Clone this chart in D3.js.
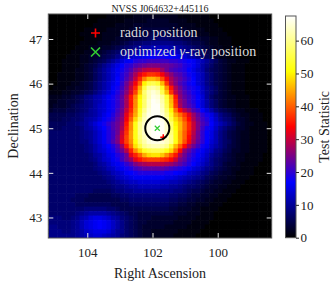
<!DOCTYPE html>
<html>
<head>
<meta charset="utf-8">
<script src="https://cdn.jsdelivr.net/npm/d3@7"></script>
<style>
  body { margin: 0; background: #fff; overflow: hidden; }
  svg { display: block; }
</style>
</head>
<body>
<svg id="chart" width="336" height="288"></svg>
<script>
// map extent and ticks (degrees)
const title = 'NVSS J064632+445116';
const raExtent = [105.196, 98.344];
const decExtent = [47.56, 42.54];
const raTicks = [104, 102, 100];
const decTicks = [43, 44, 45, 46, 47];
const tsTicks = [0, 10, 20, 30, 40, 50, 60];
const tsMax = 67.5;

// markers
const radioPos = [101.67, 44.80];
const fitPos = [101.853, 45.0];
const fitRadius = 0.27;

// TS map, 50 x 50 pixels, top row = highest Dec, left column = highest RA
const tsRows = [
  [0,0,0,0,0,0,0,0,0,0, 0,0,0,1,1,1,1,1,1,2, 2,2,2,2,2,2,2,2,2,1, 1,1,1,1,1,1,0,0,0,0, 0,0,0,0,0,0,0,0,0,0],
  [0,0,0,0,0,0,0,0,0,0, 0,1,1,1,1,1,1,2,2,2, 2,2,3,3,3,3,3,2,2,2, 2,1,1,1,1,1,1,0,0,0, 0,0,0,0,0,0,0,0,0,0],
  [0,0,0,0,0,0,0,0,0,0, 1,1,1,1,1,2,2,2,2,3, 3,3,3,3,3,3,3,3,3,2, 2,2,2,1,1,1,1,1,0,0, 0,0,0,0,0,0,0,0,0,0],
  [0,0,0,0,0,0,0,0,1,1, 1,1,1,2,2,2,2,2,3,3, 3,4,4,4,4,4,4,3,3,3, 3,2,2,2,2,1,1,1,1,0, 0,0,0,0,0,0,0,0,0,0],
  [0,0,0,0,0,0,0,1,1,1, 1,1,2,2,2,2,3,3,3,4, 4,4,5,5,5,5,5,4,4,4, 3,3,3,2,2,2,1,1,1,1, 0,0,0,0,0,0,0,0,0,0],
  [0,0,0,0,0,0,0,0,1,1, 1,1,2,2,2,3,3,3,4,4, 5,5,6,6,7,7,7,6,6,6, 5,5,4,4,3,3,2,2,1,1, 1,0,0,0,0,0,0,0,0,0],
  [0,0,0,0,0,0,0,1,1,1, 1,2,2,2,3,3,4,5,6,7, 7,8,8,9,9,9,9,9,8,8, 7,6,5,5,4,3,2,2,1,1, 1,0,0,0,0,0,0,0,0,0],
  [0,0,0,0,0,0,1,1,1,2, 2,2,3,3,4,5,6,7,8,9, 10,11,11,12,12,12,12,11,11,10, 9,8,7,6,5,4,3,2,2,1, 1,1,0,0,0,0,0,0,0,0],
  [0,0,0,0,0,1,1,1,2,2, 3,3,4,5,6,7,8,9,10,11, 12,13,14,14,15,15,14,14,13,12, 11,10,9,7,6,5,4,3,2,2, 1,1,1,0,0,0,0,0,0,0],
  [0,0,0,0,1,1,1,2,2,3, 3,4,5,6,7,9,11,12,13,14, 15,16,17,17,18,18,17,17,16,15, 14,12,11,9,7,6,4,3,2,2, 1,1,1,0,0,0,0,0,0,0],
  [0,0,0,1,1,1,1,2,2,3, 4,5,6,8,10,12,14,16,17,19, 20,20,21,21,21,21,21,20,20,19, 18,17,16,14,12,10,8,6,4,3, 2,2,1,1,1,0,0,0,0,0],
  [0,0,0,1,1,1,1,2,3,4, 5,7,9,11,13,15,17,19,20,22, 23,24,25,25,25,24,24,23,22,21, 19,18,16,14,11,9,7,5,4,3, 2,1,1,1,0,0,0,0,0,0],
  [0,0,0,1,1,1,2,2,3,4, 6,8,10,12,14,16,18,20,22,25, 27,29,30,30,30,27,24,22,21,20, 19,17,15,13,11,8,6,5,4,3, 2,1,1,1,0,0,0,0,0,0],
  [0,0,1,1,1,1,2,2,3,4, 6,8,10,12,14,16,19,21,24,28, 32,35,37,37,36,33,29,26,23,22, 20,18,16,14,12,9,7,5,4,3, 2,1,1,1,0,0,0,0,0,0],
  [0,0,1,1,1,1,2,2,3,4, 6,8,10,12,14,17,19,22,25,30, 36,42,46,46,44,39,33,28,25,23, 21,19,17,14,12,9,7,5,4,3, 2,1,1,1,0,0,0,0,0,0],
  [0,0,1,1,1,2,2,3,4,5, 7,9,11,13,15,17,20,24,28,33, 40,50,55,56,54,46,37,29,25,22, 20,18,17,14,12,9,7,5,4,3, 2,1,1,1,0,0,0,0,0,0],
  [0,1,1,1,2,2,3,3,4,5, 7,9,11,13,16,18,21,25,30,36, 45,55,61,62,60,53,43,35,28,24, 21,19,18,16,13,10,8,6,4,3, 2,1,1,1,0,0,0,0,0,0],
  [1,1,1,2,2,3,3,4,5,6, 8,10,12,14,16,19,22,26,31,38, 47,58,63,65,63,56,46,37,29,25, 22,20,18,16,13,10,8,6,4,3, 2,1,1,1,0,0,0,0,0,0],
  [2,2,2,3,3,4,5,6,8,9, 11,12,14,16,18,20,23,28,35,42, 50,57,63,66,65,61,54,45,35,26, 23,21,19,17,14,10,7,5,4,3, 2,2,1,1,1,0,0,0,0,0],
  [2,2,3,3,4,4,5,6,8,9, 11,12,14,16,18,20,23,28,35,43, 51,58,64,67,66,62,55,46,36,27, 24,21,19,17,14,11,8,6,4,3, 2,2,1,1,1,0,0,0,0,0],
  [2,3,3,3,4,5,6,7,8,9, 11,13,14,16,18,20,23,28,35,43, 51,58,64,67,67,63,56,47,37,28, 24,22,20,17,14,11,8,6,4,3, 2,2,1,1,1,0,0,0,0,0],
  [3,4,4,4,5,5,6,7,8,10, 11,13,14,16,18,21,24,30,36,44, 53,60,65,67,67,64,58,50,41,34, 29,26,22,20,17,14,11,8,6,5, 4,3,2,2,1,1,1,0,0,0],
  [5,5,5,5,6,6,7,8,9,10, 11,13,15,17,19,22,25,32,38,45, 54,62,66,67,67,65,60,53,45,41, 37,32,27,23,20,18,15,12,9,7, 6,4,3,2,2,1,1,1,0,0],
  [5,5,5,6,6,7,7,8,10,11, 12,14,16,18,20,23,26,33,40,48, 57,63,66,67,68,66,62,55,48,44, 39,34,28,24,21,19,16,13,10,8, 7,5,3,3,2,1,1,1,0,0],
  [6,6,6,6,7,7,8,9,10,12, 14,16,18,20,22,24,27,35,43,52, 60,64,66,67,68,67,64,58,50,46, 41,36,30,25,22,20,17,14,12,10, 8,6,4,3,2,2,1,1,1,0],
  [6,6,6,7,7,7,7,8,10,11, 13,15,17,19,22,24,28,36,43,52, 60,64,66,67,68,67,64,58,51,46, 41,36,30,25,21,18,16,13,10,8, 6,5,3,3,2,1,1,1,1,0],
  [7,7,7,7,7,7,7,8,9,10, 12,14,16,19,21,24,30,37,44,52, 60,64,66,67,68,67,64,59,52,45, 40,35,29,24,20,17,15,12,9,7, 5,4,3,2,2,1,1,1,1,0],
  [7,7,7,7,7,7,7,8,9,10, 12,14,16,19,21,25,31,38,44,52, 59,63,66,67,67,66,64,60,52,45, 40,34,28,24,20,17,15,12,9,7, 5,4,3,2,2,1,1,1,1,0],
  [7,7,7,7,7,7,7,8,8,10, 12,14,16,19,22,25,32,38,43,51, 58,62,65,66,66,65,63,60,52,45, 39,33,27,23,20,17,14,12,9,7, 6,4,3,2,2,1,1,1,1,0],
  [7,7,7,7,7,7,7,7,8,9, 11,13,15,17,19,22,27,35,41,49, 55,60,62,63,63,62,60,54,46,40, 34,28,24,21,18,16,13,11,9,7, 5,4,3,2,2,1,1,1,1,0],
  [7,7,7,7,7,7,7,7,8,9, 11,13,14,16,18,21,24,29,36,43, 48,53,55,56,56,55,52,48,41,34, 26,23,20,18,16,14,12,9,8,6, 5,3,3,2,2,1,1,1,1,0],
  [7,7,7,7,7,7,7,7,7,8, 10,11,13,15,16,19,21,24,32,36, 40,45,48,49,49,47,43,39,35,28, 24,21,19,17,15,13,10,8,7,5, 4,3,2,2,1,1,1,1,0,0],
  [7,7,7,7,7,7,7,7,7,8, 9,11,13,14,16,18,21,24,27,32, 35,37,38,38,38,37,36,34,30,25, 23,20,18,16,14,12,9,7,6,5, 4,3,2,2,1,1,1,1,0,0],
  [7,7,7,7,7,7,7,7,7,7, 8,10,11,13,15,16,18,20,22,25, 27,28,29,29,29,29,28,27,25,23, 21,19,17,15,13,11,9,7,6,4, 3,3,2,1,1,1,1,0,0,0],
  [7,7,7,7,7,7,7,7,7,7, 8,9,10,12,13,15,16,18,19,21, 22,23,23,23,23,23,22,21,20,19, 18,16,14,13,11,9,8,6,5,4, 3,2,2,1,1,1,0,0,0,0],
  [7,7,7,7,7,7,7,7,7,7, 7,8,9,10,12,13,14,16,17,18, 19,19,19,19,19,19,18,18,17,16, 15,13,12,11,9,8,6,5,4,3, 3,2,1,1,1,1,0,0,0,0],
  [7,7,7,7,7,7,7,7,7,7, 7,7,8,9,10,12,13,14,15,16, 16,16,16,16,16,16,15,15,14,13, 12,11,10,9,8,6,5,4,3,3, 2,2,1,1,1,0,0,0,0,0],
  [7,7,7,7,7,7,7,7,7,7, 7,7,7,8,9,10,11,12,13,13, 14,14,14,14,14,13,13,12,12,11, 10,9,8,7,6,5,4,3,3,2, 2,1,1,1,0,0,0,0,0,0],
  [7,7,7,7,7,7,7,7,7,7, 7,7,7,7,8,9,9,10,11,11, 12,12,12,12,12,11,11,10,10,9, 8,7,7,6,5,4,3,3,2,2, 1,1,1,0,0,0,0,0,0,0],
  [7,7,7,7,7,7,7,7,7,7, 6,6,6,6,7,8,8,9,9,10, 10,10,10,10,10,9,9,9,8,8, 7,6,5,5,4,3,3,2,2,1, 1,1,0,0,0,0,0,0,0,0],
  [7,7,7,7,7,7,6,6,6,5, 5,5,5,5,6,6,7,7,8,8, 8,8,8,8,8,8,8,7,7,6, 6,5,4,4,3,3,2,2,1,1, 1,0,0,0,0,0,0,0,0,0],
  [7,7,7,7,7,6,6,6,5,5, 5,5,5,5,5,5,6,6,7,7, 7,7,7,7,7,7,7,6,6,5, 5,4,4,3,3,2,2,1,1,1, 0,0,0,0,0,0,0,0,0,0],
  [7,7,7,7,7,7,6,6,6,6, 6,6,6,6,5,5,5,5,6,6, 6,6,6,6,6,6,6,5,5,4, 4,3,3,2,2,2,1,1,1,0, 0,0,0,0,0,0,0,0,0,0],
  [7,7,7,7,7,7,7,7,8,8, 8,8,8,7,7,6,5,5,5,5, 5,5,5,5,5,5,5,4,4,3, 3,3,2,2,1,1,1,1,0,0, 0,0,0,0,0,0,0,0,0,0],
  [7,7,7,7,7,7,8,9,10,11, 11,11,11,10,9,8,7,6,5,5, 4,4,4,4,4,4,4,4,3,3, 3,2,2,2,1,1,1,0,0,0, 0,0,0,0,0,0,0,0,0,0],
  [8,8,8,7,7,8,9,11,12,14, 15,15,14,13,11,10,8,7,6,5, 4,4,4,3,3,3,3,3,3,2, 2,2,2,1,1,1,1,0,0,0, 0,0,0,0,0,0,0,0,0,0],
  [8,8,8,8,8,9,10,12,14,15, 16,17,16,15,13,11,9,7,6,5, 4,4,3,3,3,3,3,3,2,2, 2,2,1,1,1,1,0,0,0,0, 0,0,0,0,0,0,0,0,0,0],
  [9,9,8,8,8,9,10,12,14,15, 16,17,16,15,13,11,9,7,6,5, 4,3,3,3,3,3,2,2,2,2, 2,1,1,1,1,0,0,0,0,0, 0,0,0,0,0,0,0,0,0,0],
  [9,9,9,8,8,9,10,11,13,14, 15,15,15,14,12,10,9,7,6,5, 4,3,3,2,2,2,2,2,2,1, 1,1,1,1,0,0,0,0,0,0, 0,0,0,0,0,0,0,0,0,0],
  [9,9,9,9,9,9,10,11,12,13, 14,14,13,12,11,10,8,7,6,5, 4,3,3,2,2,2,2,2,1,1, 1,1,1,0,0,0,0,0,0,0, 0,0,0,0,0,0,0,0,0,0]
];

var font = '"Liberation Serif", "DejaVu Serif", serif';

var plot = { left: 48.3, right: 271.7, top: 14, bottom: 238 };
var bar = { left: 285.5, right: 296, top: 16, bottom: 237.7 };

var svg = d3.select( '#chart' ).attr( 'font-family', font );

var x = d3.scaleLinear().domain( raExtent ).range( [ plot.left, plot.right ] );
var y = d3.scaleLinear().domain( decExtent ).range( [ plot.top, plot.bottom ] );

var col = d3.scaleBand().domain( d3.range( tsRows[0].length ) ).range( [ plot.left, plot.right ] );
var row = d3.scaleBand().domain( d3.range( tsRows.length ) ).range( [ plot.top, plot.bottom ] );

// ds9 "b" colormap: black - blue - red - yellow - white
var color = d3.scaleLinear()
	.domain( [ 0, 0.25, 0.5, 0.75, 1 ].map( function ( f ) { return f * tsMax; } ) )
	.range( [ '#000000', '#0000ff', '#ff0000', '#ffff00', '#ffffff' ] )
	.clamp( true );

svg.append( 'clipPath' ).attr( 'id', 'clip' )
	.append( 'rect' )
	.attr( 'x', plot.left ).attr( 'y', plot.top )
	.attr( 'width', plot.right - plot.left ).attr( 'height', plot.bottom - plot.top );

var cells = [];
tsRows.forEach( function ( r, i ) {
	r.forEach( function ( v, j ) { cells.push( { i: i, j: j, v: v } ); } );
} );

var guts = svg.append( 'g' ).attr( 'clip-path', 'url(#clip)' );

guts.selectAll( 'rect' )
	.data( cells )
	.enter()
	.append( 'rect' )
	.attr( 'x', function ( d ) { return col( d.j ); } )
	.attr( 'y', function ( d ) { return row( d.i ); } )
	.attr( 'width', col.bandwidth() + 0.6 )
	.attr( 'height', row.bandwidth() + 0.6 )
	.attr( 'fill', function ( d ) { return color( d.v ); } );

// radio position (red +), under the error circle
var rx = x( radioPos[0] ), ry = y( radioPos[1] );
guts.append( 'path' )
	.attr( 'd', 'M' + ( rx - 3 ) + ',' + ry + 'H' + ( rx + 3 ) + 'M' + rx + ',' + ( ry - 3 ) + 'V' + ( ry + 3 ) )
	.attr( 'stroke', '#ff0000' ).attr( 'stroke-width', 1.5 );

var fx = x( fitPos[0] ), fy = y( fitPos[1] );
guts.append( 'circle' )
	.attr( 'cx', fx ).attr( 'cy', fy )
	.attr( 'r', y( fitPos[1] - fitRadius ) - fy )
	.attr( 'fill', 'none' ).attr( 'stroke', '#000' ).attr( 'stroke-width', 2 );

guts.append( 'path' )
	.attr( 'd', 'M' + ( fx - 2.5 ) + ',' + ( fy - 2.5 ) + 'L' + ( fx + 2.5 ) + ',' + ( fy + 2.5 ) +
		'M' + ( fx - 2.5 ) + ',' + ( fy + 2.5 ) + 'L' + ( fx + 2.5 ) + ',' + ( fy - 2.5 ) )
	.attr( 'stroke', '#32cd32' ).attr( 'stroke-width', 1.2 );

// axes, ticks pointing inwards
var styleAxis = function ( g ) {
	g.attr( 'font-family', font ).attr( 'font-size', 13 );
	g.select( '.domain' ).remove();
	g.selectAll( '.tick line' ).attr( 'stroke', '#e8e8e8' ).attr( 'stroke-width', 1 );
	g.selectAll( '.tick text' ).attr( 'fill', '#222' );
};

svg.append( 'g' )
	.attr( 'transform', 'translate(0,' + plot.bottom + ')' )
	.call( d3.axisBottom( x ).tickValues( raTicks ).tickSize( -5 ).tickPadding( 10 ).tickFormat( d3.format( 'd' ) ) )
	.call( styleAxis );

svg.append( 'g' )
	.attr( 'transform', 'translate(0,' + plot.top + ')' )
	.call( d3.axisTop( x ).tickValues( raTicks ).tickSize( -5 ).tickFormat( '' ) )
	.call( styleAxis );

svg.append( 'g' )
	.attr( 'transform', 'translate(' + plot.left + ',0)' )
	.call( d3.axisLeft( y ).tickValues( decTicks ).tickSize( -5 ).tickPadding( 6 ).tickFormat( d3.format( 'd' ) ) )
	.call( styleAxis );

svg.append( 'g' )
	.attr( 'transform', 'translate(' + plot.right + ',0)' )
	.call( d3.axisRight( y ).tickValues( decTicks ).tickSize( -5 ).tickFormat( '' ) )
	.call( styleAxis );

svg.append( 'rect' )
	.attr( 'x', plot.left ).attr( 'y', plot.top )
	.attr( 'width', plot.right - plot.left ).attr( 'height', plot.bottom - plot.top )
	.attr( 'fill', 'none' ).attr( 'stroke', '#555' ).attr( 'stroke-width', 1 );

// titles
svg.append( 'text' )
	.attr( 'x', ( plot.left + plot.right ) / 2 ).attr( 'y', 11.5 )
	.attr( 'text-anchor', 'middle' ).attr( 'font-size', 10 ).attr( 'fill', '#222' )
	.text( title );

svg.append( 'text' )
	.attr( 'x', ( plot.left + plot.right ) / 2 ).attr( 'y', 278 )
	.attr( 'text-anchor', 'middle' ).attr( 'font-size', 14 ).attr( 'fill', '#222' )
	.text( 'Right Ascension' );

svg.append( 'text' )
	.attr( 'transform', 'translate(17.5,' + ( plot.top + plot.bottom ) / 2 + ') rotate(-90)' )
	.attr( 'text-anchor', 'middle' ).attr( 'font-size', 14 ).attr( 'fill', '#222' )
	.text( 'Declination' );

// legend
var legend = svg.append( 'g' ).attr( 'font-size', 14 ).attr( 'fill', '#dcdcdc' );
var lx = 95.5;
legend.append( 'path' )
	.attr( 'd', 'M' + ( lx - 4.5 ) + ',33H' + ( lx + 4.5 ) + 'M' + lx + ',28.5V37.5' )
	.attr( 'stroke', '#ff0000' ).attr( 'stroke-width', 1.6 );
legend.append( 'text' ).attr( 'x', 120 ).attr( 'y', 37 ).text( 'radio position' );
legend.append( 'path' )
	.attr( 'd', 'M' + ( lx - 4.5 ) + ',47.5L' + ( lx + 4.5 ) + ',56.5M' + ( lx - 4.5 ) + ',56.5L' + ( lx + 4.5 ) + ',47.5' )
	.attr( 'stroke', '#32cd32' ).attr( 'stroke-width', 1.6 );
var t2 = legend.append( 'text' ).attr( 'x', 120 ).attr( 'y', 56 );
t2.append( 'tspan' ).text( 'optimized ' );
t2.append( 'tspan' ).attr( 'font-style', 'italic' ).text( '\u03b3' );
t2.append( 'tspan' ).text( '-ray position' );

// colorbar
var cb = d3.scaleLinear().domain( [ 0, tsMax ] ).range( [ bar.bottom, bar.top ] );
var grad = svg.append( 'defs' ).append( 'linearGradient' )
	.attr( 'id', 'tsgrad' ).attr( 'x1', 0 ).attr( 'x2', 0 ).attr( 'y1', 1 ).attr( 'y2', 0 );
color.domain().forEach( function ( v, k ) {
	grad.append( 'stop' )
		.attr( 'offset', v / tsMax )
		.attr( 'stop-color', color.range()[k] );
} );

svg.append( 'rect' )
	.attr( 'x', bar.left ).attr( 'y', bar.top )
	.attr( 'width', bar.right - bar.left ).attr( 'height', bar.bottom - bar.top )
	.attr( 'fill', 'url(#tsgrad)' ).attr( 'stroke', '#555' ).attr( 'stroke-width', 1 );

svg.append( 'g' )
	.attr( 'transform', 'translate(' + bar.right + ',0)' )
	.call( d3.axisRight( cb ).tickValues( tsTicks ).tickSize( 3 ).tickPadding( 1.5 ) )
	.call( function ( g ) {
		g.attr( 'font-family', font ).attr( 'font-size', 13 );
		g.select( '.domain' ).remove();
		g.selectAll( '.tick line' ).attr( 'stroke', '#222' );
		g.selectAll( '.tick text' ).attr( 'fill', '#222' );
	} );

svg.append( 'text' )
	.attr( 'transform', 'translate(329,' + ( bar.top + bar.bottom ) / 2 + ') rotate(-90)' )
	.attr( 'text-anchor', 'middle' ).attr( 'font-size', 14 ).attr( 'fill', '#222' )
	.text( 'Test Statistic' );
</script>
</body>
</html>
